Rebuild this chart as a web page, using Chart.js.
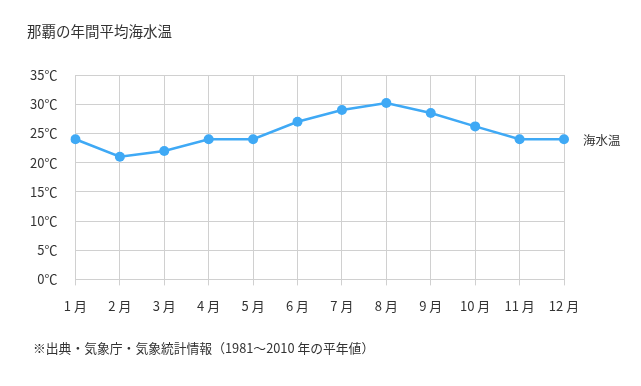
<!DOCTYPE html>
<html>
<head>
<meta charset="utf-8">
<script src="https://cdn.jsdelivr.net/npm/chart.js@4"></script>
<style>
  body { margin: 0; background: #fff; font-family: "Noto Sans CJK JP", sans-serif; }
  #wrap { position: relative; width: 641px; height: 386px; }
  #title { position: absolute; left: 27px; top: 20px; font-size: 14.5px; color: #333; }
  #note { position: absolute; left: 33px; top: 338px; font-size: 12.8px; color: #333; }
  canvas { position: absolute; left: 0; top: 0; }
</style>
</head>
<body>
<div id="wrap">
  <canvas id="seaChart" width="641" height="386"></canvas>
  <div id="title">那覇の年間平均海水温</div>
  <div id="note">※出典・気象庁・気象統計情報（1981～2010 年の平年値）</div>
</div>
<script>
// データ
const months = ['1 月','2 月','3 月','4 月','5 月','6 月','7 月','8 月','9 月','10 月','11 月','12 月'];
const seaTemp = [24, 21, 22, 24, 24, 27, 29, 30.2, 28.5, 26.2, 24, 24];
const seriesName = '海水温';

const lineColor = '#3fa9f5';

// 右端に系列名を描く
const endLabelPlugin = {
  id: 'endLabel',
  afterDatasetsDraw(chart) {
    const meta = chart.getDatasetMeta(0);
    const last = meta.data[meta.data.length - 1];
    const ctx = chart.ctx;
    ctx.save();
    ctx.font = '12.5px "Noto Sans CJK JP"';
    ctx.fillStyle = '#333';
    ctx.textAlign = 'left';
    ctx.textBaseline = 'middle';
    ctx.fillText(chart.data.datasets[0].label, last.x + 19, last.y + 1);
    ctx.restore();
  }
};

new Chart(document.getElementById('seaChart'), {
  type: 'line',
  plugins: [endLabelPlugin],
  data: {
    labels: months,
    datasets: [{
      label: seriesName,
      data: seaTemp,
      borderColor: lineColor,
      backgroundColor: lineColor,
      borderWidth: 2.5,
      tension: 0,
      pointRadius: 5,
      pointBackgroundColor: lineColor,
      pointBorderWidth: 0,
    }]
  },
  options: {
    responsive: false,
    animation: false,
    layout: { padding: { left: 12, top: 75, right: 77, bottom: 59 } },
    plugins: {
      legend: { display: false },
      tooltip: { enabled: false }
    },
    scales: {
      x: {
        offset: false,
        border: { color: '#d0d0d0' },
        grid: { color: '#d0d0d0', drawTicks: true, tickLength: 6 },
        ticks: {
          color: '#333',
          padding: 13,
          font: { family: '"Noto Sans CJK JP"', size: 13 },
          maxRotation: 0
        }
      },
      y: {
        min: 0, max: 35,
        border: { color: '#d0d0d0' },
        grid: { color: '#d0d0d0', drawTicks: false },
        ticks: {
          stepSize: 5,
          color: '#333',
          padding: 18,
          font: { family: '"Noto Sans CJK JP"', size: 13 },
          callback: (v) => v + '℃'
        }
      }
    }
  }
});
</script>
</body>
</html>
